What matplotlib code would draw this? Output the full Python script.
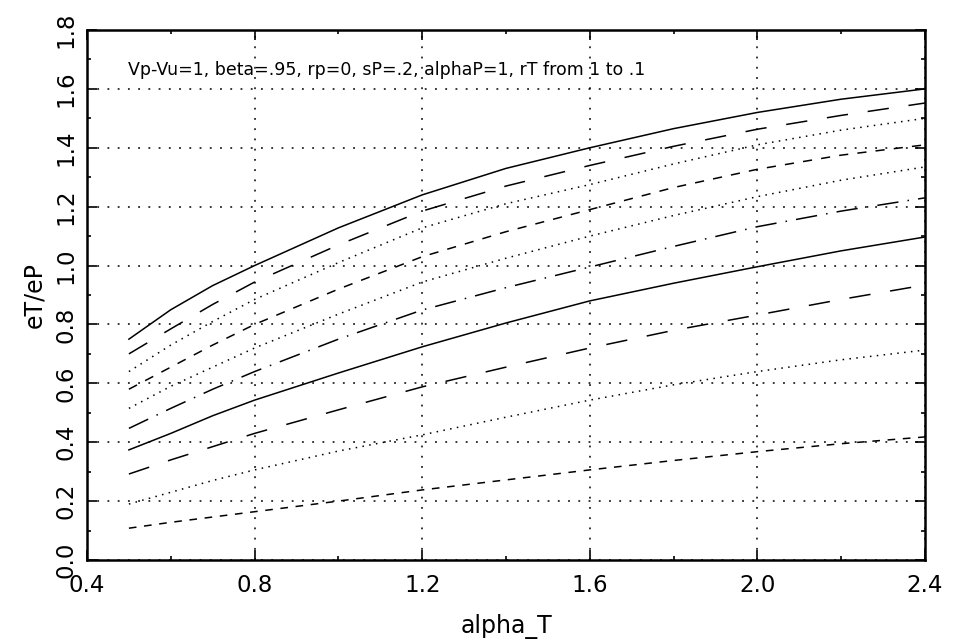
import matplotlib
matplotlib.use("Agg")
import matplotlib.pyplot as plt
from matplotlib.ticker import MultipleLocator

# ---- data ----
alpha_T = [0.5, 0.6, 0.7, 0.8, 1.0, 1.2, 1.4, 1.6, 1.8, 2.0, 2.2, 2.4]

rT_1_0 = [0.750, 0.850, 0.932, 1.000, 1.128, 1.240, 1.330, 1.400, 1.465, 1.520, 1.565, 1.600]
rT_0_9 = [0.700, 0.785, 0.868, 0.944, 1.070, 1.185, 1.270, 1.340, 1.405, 1.463, 1.510, 1.552]
rT_0_8 = [0.640, 0.730, 0.810, 0.885, 1.010, 1.128, 1.210, 1.275, 1.345, 1.410, 1.460, 1.500]
rT_0_7 = [0.580, 0.655, 0.730, 0.800, 0.920, 1.030, 1.115, 1.190, 1.265, 1.327, 1.375, 1.410]
rT_0_6 = [0.515, 0.590, 0.655, 0.720, 0.835, 0.944, 1.025, 1.100, 1.170, 1.234, 1.290, 1.335]
rT_0_5 = [0.447, 0.515, 0.580, 0.640, 0.750, 0.849, 0.925, 0.995, 1.065, 1.132, 1.185, 1.230]
rT_0_4 = [0.374, 0.430, 0.490, 0.543, 0.635, 0.724, 0.805, 0.880, 0.940, 0.996, 1.050, 1.097]
rT_0_3 = [0.292, 0.340, 0.385, 0.430, 0.510, 0.588, 0.655, 0.720, 0.780, 0.832, 0.885, 0.934]
rT_0_2 = [0.190, 0.230, 0.270, 0.306, 0.370, 0.425, 0.485, 0.543, 0.595, 0.640, 0.680, 0.713]
rT_0_1 = [0.108, 0.128, 0.146, 0.164, 0.200, 0.238, 0.272, 0.306, 0.338, 0.368, 0.395, 0.418]

series = [rT_1_0, rT_0_9, rT_0_8, rT_0_7, rT_0_6, rT_0_5, rT_0_4, rT_0_3, rT_0_2, rT_0_1]

x_ticks = [0.4, 0.8, 1.2, 1.6, 2.0, 2.4]
x_tick_labels = ["0.4", "0.8", "1.2", "1.6", "2.0", "2.4"]
y_ticks = [0.0, 0.2, 0.4, 0.6, 0.8, 1.0, 1.2, 1.4, 1.6, 1.8]
y_tick_labels = ["0.0", "0.2", "0.4", "0.6", "0.8", "1.0", "1.2", "1.4", "1.6", "1.8"]

annotation = "Vp-Vu=1, beta=.95, rp=0, sP=.2, alphaP=1, rT from 1 to .1"

# ---- styles ----
long_dash = (0, (14, 13))
med_dash = (0, (6, 6))
dotted = (0, (1, 3.5))
dash_dot = (0, (14, 6, 1, 6))
short_dash = (0, (5, 5))
styles = ["-", long_dash, dotted, med_dash, dotted, dash_dot, "-", long_dash, dotted, short_dash]

plt.rcParams["font.family"] = ["DejaVu Sans"]

fig = plt.figure(figsize=(9.57, 6.4), dpi=100)
ax = fig.add_axes([87 / 957, 1 - 560 / 640, (925 - 87) / 957, (560 - 30) / 640])

for ys, ls in zip(series, styles):
    ax.plot(alpha_T, ys, color="black", lw=1.1, linestyle=ls)

ax.set_xlim(0.4, 2.4)
ax.set_ylim(0.0, 1.8)
ax.set_xticks(x_ticks)
ax.set_xticklabels(x_tick_labels)
ax.set_yticks(y_ticks)
ax.set_yticklabels(y_tick_labels, rotation=90, va="center")
ax.xaxis.set_minor_locator(MultipleLocator(0.2))
ax.yaxis.set_minor_locator(MultipleLocator(0.1))

ax.tick_params(which="both", direction="in", top=True, right=True, colors="black",
               width=1.2)
ax.tick_params(which="major", length=7)
ax.tick_params(which="minor", length=3)
ax.tick_params(axis="x", which="major", pad=10, labelsize=16.5)
ax.tick_params(axis="y", which="major", pad=7, labelsize=16.5)

ax.grid(True, which="major", color="black", lw=1.1, linestyle=(0, (1.2, 5.5)))

for sp in ax.spines.values():
    sp.set_linewidth(1.8)

ax.text(0.498, 1.665, annotation, fontsize=12.5, ha="left", va="center")

ax.set_xlabel("alpha_T", fontsize=17, labelpad=12)
ax.set_ylabel("eT/eP", fontsize=17, labelpad=6)

fig.savefig("out.png", dpi=100)
